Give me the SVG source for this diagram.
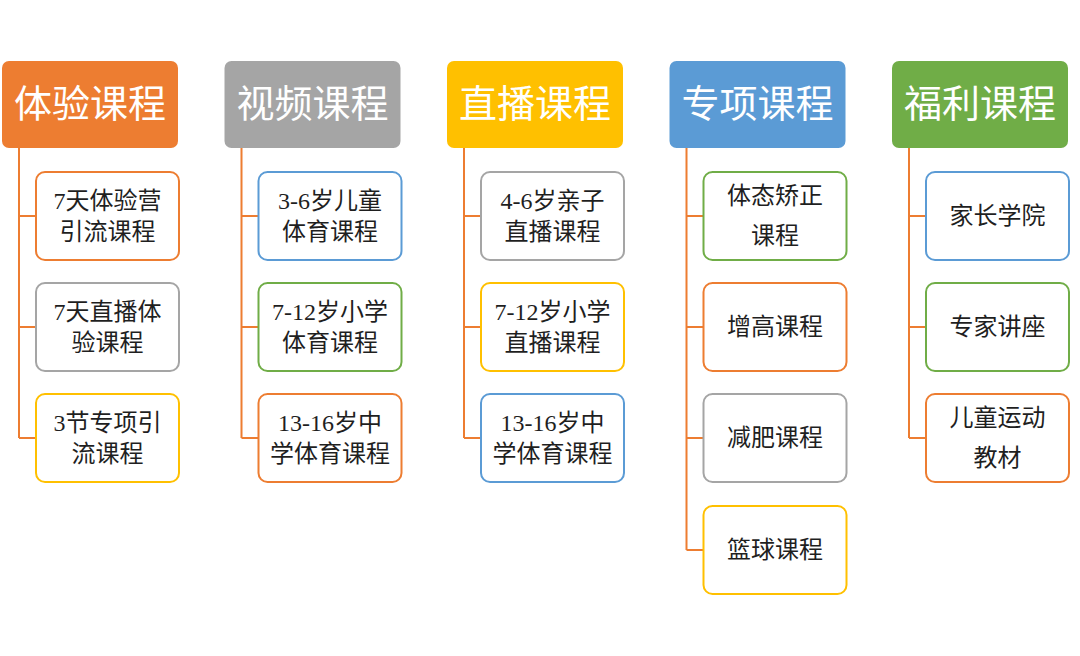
<svg xmlns="http://www.w3.org/2000/svg" width="1080" height="656" viewBox="0 0 1080 656">
<style>
.h{stroke:none}
.ht{font-family:"Liberation Serif","Noto Sans CJK SC",serif;font-size:38px;fill:#fff;text-anchor:middle;dominant-baseline:central}
.c{fill:#fff;stroke-width:2}
.ct{font-family:"Liberation Serif","Noto Sans CJK SC",serif;font-size:24px;fill:#1f1f1f;text-anchor:middle;dominant-baseline:central}
.o{stroke:#ED7D31}.g{stroke:#A5A5A5}.y{stroke:#FFC000}.b{stroke:#5B9BD5}.n{stroke:#70AD47}
#connectors path{fill:none;stroke:#ED7D31;stroke-width:2}
</style>
<rect width="1080" height="656" fill="#fff"/>
<g id="connectors">
<path d="M19 148V438M19 216H36M19 327H36M19 438H36"/>
<path d="M241.5 148V438M241.5 216H258.5M241.5 327H258.5M241.5 438H258.5"/>
<path d="M464 148V438M464 216H481M464 327H481M464 438H481"/>
<path d="M686.5 148V550M686.5 216H703.5M686.5 327H703.5M686.5 438H703.5M686.5 550H703.5"/>
<path d="M909 148V438M909 216H926M909 327H926M909 438H926"/>
</g>
<g id="h1"><rect class="h" x="2" y="61" width="176" height="87" rx="7" fill="#ED7D31"/><text class="ht" x="90" y="104">体验课程</text></g>
<g id="h2"><rect class="h" x="224.5" y="61" width="176" height="87" rx="7" fill="#A5A5A5"/><text class="ht" x="312.5" y="104">视频课程</text></g>
<g id="h3"><rect class="h" x="447" y="61" width="176" height="87" rx="7" fill="#FFC000"/><text class="ht" x="535" y="104">直播课程</text></g>
<g id="h4"><rect class="h" x="669.5" y="61" width="176" height="87" rx="7" fill="#5B9BD5"/><text class="ht" x="757.5" y="104">专项课程</text></g>
<g id="h5"><rect class="h" x="892" y="61" width="176" height="87" rx="7" fill="#70AD47"/><text class="ht" x="980" y="104">福利课程</text></g>

<g id="c1a"><rect class="c o" x="36" y="172" width="143" height="88" rx="9"/><text class="ct" x="107.5" y="201">7天体验营</text><text class="ct" x="107.5" y="232">引流课程</text></g>
<g id="c1b"><rect class="c g" x="36" y="283" width="143" height="88" rx="9"/><text class="ct" x="107.5" y="312">7天直播体</text><text class="ct" x="107.5" y="343">验课程</text></g>
<g id="c1c"><rect class="c y" x="36" y="394" width="143" height="88" rx="9"/><text class="ct" x="107.5" y="423">3节专项引</text><text class="ct" x="107.5" y="454">流课程</text></g>

<g id="c2a"><rect class="c b" x="258.5" y="172" width="143" height="88" rx="9"/><text class="ct" x="330" y="201">3-6岁儿童</text><text class="ct" x="330" y="232">体育课程</text></g>
<g id="c2b"><rect class="c n" x="258.5" y="283" width="143" height="88" rx="9"/><text class="ct" x="330" y="312">7-12岁小学</text><text class="ct" x="330" y="343">体育课程</text></g>
<g id="c2c"><rect class="c o" x="258.5" y="394" width="143" height="88" rx="9"/><text class="ct" x="330" y="423">13-16岁中</text><text class="ct" x="330" y="454">学体育课程</text></g>

<g id="c3a"><rect class="c g" x="481" y="172" width="143" height="88" rx="9"/><text class="ct" x="552.5" y="201">4-6岁亲子</text><text class="ct" x="552.5" y="232">直播课程</text></g>
<g id="c3b"><rect class="c y" x="481" y="283" width="143" height="88" rx="9"/><text class="ct" x="552.5" y="312">7-12岁小学</text><text class="ct" x="552.5" y="343">直播课程</text></g>
<g id="c3c"><rect class="c b" x="481" y="394" width="143" height="88" rx="9"/><text class="ct" x="552.5" y="423">13-16岁中</text><text class="ct" x="552.5" y="454">学体育课程</text></g>

<g id="c4a"><rect class="c n" x="703.5" y="172" width="143" height="88" rx="9"/><text class="ct" x="775" y="196">体态矫正</text><text class="ct" x="775" y="236">课程</text></g>
<g id="c4b"><rect class="c o" x="703.5" y="283" width="143" height="88" rx="9"/><text class="ct" x="775" y="327">增高课程</text></g>
<g id="c4c"><rect class="c g" x="703.5" y="394" width="143" height="88" rx="9"/><text class="ct" x="775" y="438">减肥课程</text></g>
<g id="c4d"><rect class="c y" x="703.5" y="506" width="143" height="88" rx="9"/><text class="ct" x="775" y="550">篮球课程</text></g>

<g id="c5a"><rect class="c b" x="926" y="172" width="143" height="88" rx="9"/><text class="ct" x="997.5" y="216">家长学院</text></g>
<g id="c5b"><rect class="c n" x="926" y="283" width="143" height="88" rx="9"/><text class="ct" x="997.5" y="327">专家讲座</text></g>
<g id="c5c"><rect class="c o" x="926" y="394" width="143" height="88" rx="9"/><text class="ct" x="997.5" y="418">儿童运动</text><text class="ct" x="997.5" y="458">教材</text></g>
</svg>
